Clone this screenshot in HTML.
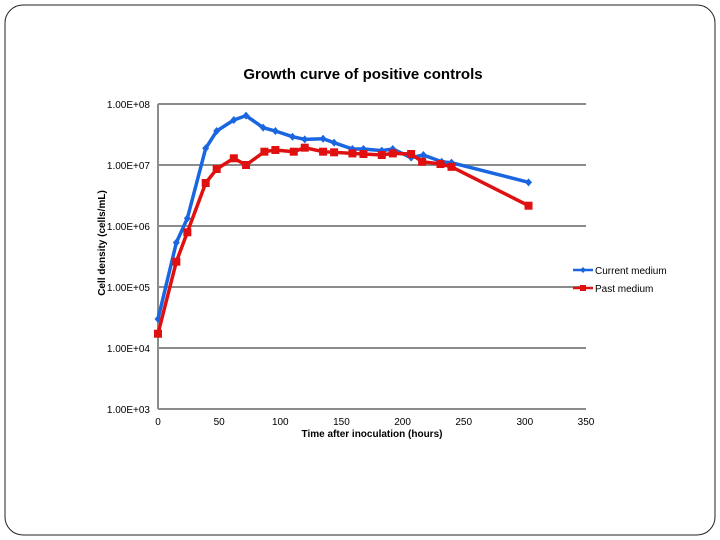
<!DOCTYPE html>
<html><head><meta charset="utf-8"><style>
body{margin:0;background:#fff;}
#wrap{position:relative;width:720px;height:540px;overflow:hidden;}
svg text{font-family:"Liberation Sans Narrow","Liberation Sans",sans-serif;}
</style></head><body>
<div id="wrap">
<svg id="chart" width="720" height="540">
<rect x="5" y="5" width="710" height="530" rx="18" ry="18" fill="#fff" stroke="#222" stroke-width="1"/>
<text x="363" y="79" text-anchor="middle" font-size="15" font-weight="bold">Growth curve of positive controls</text>
<text transform="translate(105,243) rotate(-90)" text-anchor="middle" font-size="10" font-weight="bold">Cell density (cells/mL)</text>
<text x="372" y="437" text-anchor="middle" font-size="10" font-weight="bold">Time after inoculation (hours)</text>
<g id="grid"></g><g id="series"></g><g id="legend"></g>
</svg>
</div>
<script>
const xTicks=[0,50,100,150,200,250,300,350];
const yTickExps=[3,4,5,6,7,8];
const yTickLabels=["1.00E+03","1.00E+04","1.00E+05","1.00E+06","1.00E+07","1.00E+08"];
const seriesNames=["Current medium","Past medium"];
const currentHours=[0,15,24,39,48,62,72,86,96,110,120,135,144,159,168,183,192,207,217,232,240,303];
const currentLog=[4.475,5.727,6.126,7.274,7.557,7.738,7.809,7.612,7.557,7.464,7.42,7.43,7.366,7.262,7.262,7.235,7.262,7.12,7.164,7.054,7.038,6.716];
const pastHours=[0,15,24,39,48,62,72,87,96,111,120,135,144,159,168,183,192,207,216,231,240,303];
const pastLog=[4.234,5.415,5.897,6.705,6.934,7.11,7.0,7.218,7.246,7.218,7.284,7.218,7.208,7.19,7.18,7.164,7.19,7.18,7.054,7.016,6.97,6.333];
const NS="http://www.w3.org/2000/svg";
const X0=158,X1=586,Y8=104,DEC=61;
function xs(v){return X0+(v-0)*(X1-X0)/350;}
function ys(l){return Y8+(8-l)*DEC;}
function mk(tag,attrs,parent){const e=document.createElementNS(NS,tag);for(const k in attrs)e.setAttribute(k,attrs[k]);parent.appendChild(e);return e;}
const grid=document.getElementById('grid');
yTickExps.forEach((e,i)=>{
  const ln=mk('line',{x1:X0,x2:X1,y1:ys(e),y2:ys(e),stroke:'#8c8c8c','stroke-width':2},grid);
  
  
  const t=mk('text',{x:150,y:ys(e)+4,'text-anchor':'end','font-size':10},grid);
  t.textContent=yTickLabels[i];
  
  
});
const ax=mk('line',{x1:X0,x2:X0,y1:ys(8),y2:ys(3),stroke:'#8c8c8c','stroke-width':2},grid);


xTicks.forEach(v=>{
  const t=mk('text',{x:xs(v),y:425,'text-anchor':'middle','font-size':10},grid);
  t.textContent=v;
  
  
});
const ser=document.getElementById('series');
function draw(hours,logs,color,square,name){
  const g=mk('g',{},ser);
  
  
  const pts=hours.map((h,i)=>xs(h)+','+ys(logs[i])).join(' ');
  const pl=mk('polyline',{points:pts,fill:'none',stroke:color,'stroke-width':3.5,'stroke-linejoin':'round'},g);
  
  
  hours.forEach((h,i)=>{
    const cx=xs(h),cy=ys(logs[i]);let m;
    if(square)m=mk('rect',{x:cx-4,y:cy-4,width:8,height:8,fill:color},g);
    else m=mk('polygon',{points:`${cx},${cy-4} ${cx+3.5},${cy} ${cx},${cy+4} ${cx-3.5},${cy}`,fill:color},g);
    
    
  });
}
draw(currentHours,currentLog,'#1a66e0',false,'current-medium');
draw(pastHours,pastLog,'#e01010',true,'past-medium');
const lg=document.getElementById('legend');
[['#1a66e0',false,270],['#e01010',true,288]].forEach((d,i)=>{
  const g=mk('g',{},lg);
  
  
  mk('line',{x1:573,x2:593,y1:d[2],y2:d[2],stroke:d[0],'stroke-width':2.5},g);
  if(d[1])mk('rect',{x:580,y:d[2]-3,width:6,height:6,fill:d[0]},g);
  else mk('polygon',{points:`583,${d[2]-3} 586,${d[2]} 583,${d[2]+3} 580,${d[2]}`,fill:d[0]},g);
  const t=mk('text',{x:595,y:d[2]+4,'font-size':10},g);
  t.textContent=seriesNames[i];
});
</script>
</body></html>
